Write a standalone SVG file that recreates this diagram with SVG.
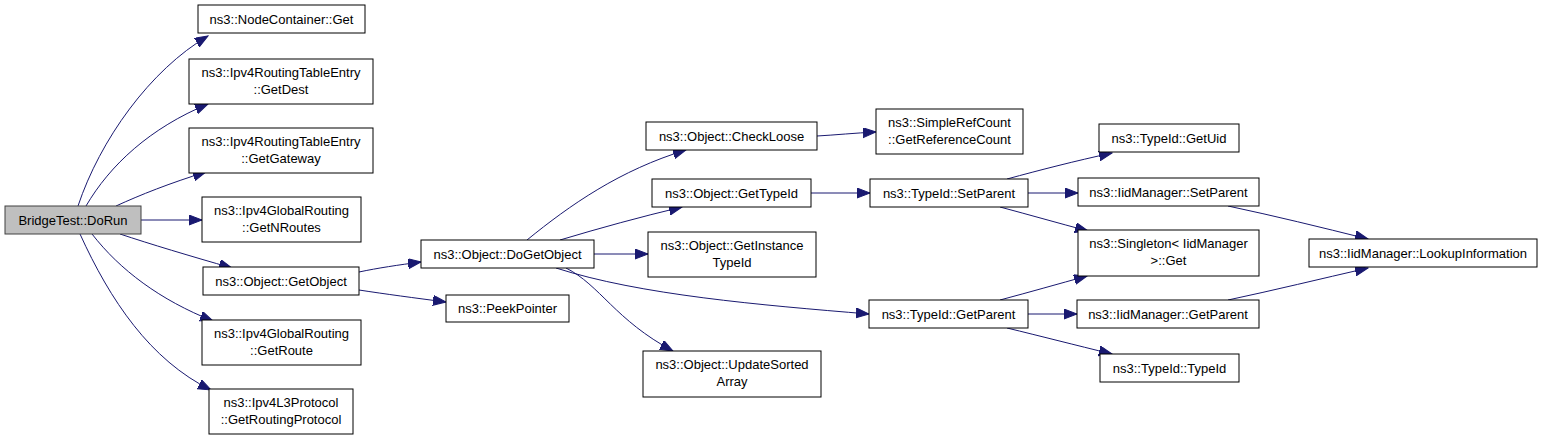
<svg xmlns="http://www.w3.org/2000/svg" width="1547" height="440" viewBox="0 0 1547 440">
<style>
.n rect{fill:#ffffff;stroke:#000000;stroke-width:1}
.n.root rect{fill:#bfbfbf;stroke:#404040}
.n text{font-family:"Liberation Sans",Arial,sans-serif;font-size:13px;fill:#000000;text-anchor:middle}
#edges path{fill:none;stroke:#191970;stroke-width:1;marker-end:url(#ah)}
</style>
<defs>
<marker id="ah" markerUnits="userSpaceOnUse" markerWidth="14" markerHeight="11" refX="13" refY="5" orient="auto">
<path d="M0,0 L13,5 L0,10 Z" fill="#191970" stroke="#191970" stroke-width="1"/>
</marker>
</defs>
<rect width="1547" height="440" fill="#ffffff"/>
<g id="edges">
<path d="M78,206 C100,140 150,70 208,36"/>
<path d="M86,206 C110,165 150,128 208,104"/>
<path d="M116,206 C140,195 170,183 206,172"/>
<path d="M141,220 L202,220"/>
<path d="M120,234 C150,244 190,256 232,268"/>
<path d="M92,234 C120,270 160,300 213,321"/>
<path d="M80,234 C110,300 150,360 211,390"/>
<path d="M359,272 C378,268 398,265 421,262"/>
<path d="M359,290 C385,294 415,298 446,302"/>
<path d="M527,240 C570,205 620,170 686,150"/>
<path d="M560,240 C600,228 640,217 682,207"/>
<path d="M594,254 L648,254"/>
<path d="M566,268 C600,285 615,320 673,351"/>
<path d="M556,268 C640,295 760,305 869,314"/>
<path d="M817,136 C835,135 855,133 876,132"/>
<path d="M811,193 L870,193"/>
<path d="M1007,179 C1040,170 1075,161 1112,153"/>
<path d="M1028,193 L1078,193"/>
<path d="M1000,207 C1030,215 1058,223 1088,231"/>
<path d="M1000,300 C1030,292 1058,284 1087,276"/>
<path d="M1028,314 L1077,314"/>
<path d="M1007,328 C1040,336 1075,345 1112,354"/>
<path d="M1228,206 C1275,216 1320,227 1368,239"/>
<path d="M1228,300 C1275,290 1320,279 1368,268"/>
</g>
<g id="n_dorun" class="n root"><rect x="5" y="206" width="136" height="28"/><text x="73" y="225">BridgeTest::DoRun</text></g>
<g id="n_nodecontainer_get" class="n"><rect x="198" y="5" width="167" height="28"/><text x="281.5" y="24">ns3::NodeContainer::Get</text></g>
<g id="n_getdest" class="n"><rect x="189" y="59" width="184" height="45"/><text x="281" y="77">ns3::Ipv4RoutingTableEntry</text><text x="281" y="94">::GetDest</text></g>
<g id="n_getgateway" class="n"><rect x="189" y="128" width="184" height="45"/><text x="281" y="146">ns3::Ipv4RoutingTableEntry</text><text x="281" y="163">::GetGateway</text></g>
<g id="n_getnroutes" class="n"><rect x="202" y="197" width="159" height="45"/><text x="281.5" y="215">ns3::Ipv4GlobalRouting</text><text x="281.5" y="232">::GetNRoutes</text></g>
<g id="n_getobject" class="n"><rect x="203" y="267" width="156" height="28"/><text x="281" y="286">ns3::Object::GetObject</text></g>
<g id="n_getroute" class="n"><rect x="202" y="320" width="159" height="45"/><text x="281.5" y="338">ns3::Ipv4GlobalRouting</text><text x="281.5" y="355">::GetRoute</text></g>
<g id="n_getroutingprotocol" class="n"><rect x="209" y="389" width="144" height="45"/><text x="281" y="407">ns3::Ipv4L3Protocol</text><text x="281" y="424">::GetRoutingProtocol</text></g>
<g id="n_dogetobject" class="n"><rect x="421" y="240" width="173" height="28"/><text x="507.5" y="259">ns3::Object::DoGetObject</text></g>
<g id="n_peekpointer" class="n"><rect x="446" y="295" width="123" height="27"/><text x="507.5" y="313">ns3::PeekPointer</text></g>
<g id="n_checkloose" class="n"><rect x="646" y="122" width="171" height="28"/><text x="731.5" y="141">ns3::Object::CheckLoose</text></g>
<g id="n_gettypeid" class="n"><rect x="652" y="179" width="159" height="28"/><text x="731.5" y="198">ns3::Object::GetTypeId</text></g>
<g id="n_getinstancetypeid" class="n"><rect x="648" y="232" width="168" height="45"/><text x="732" y="250">ns3::Object::GetInstance</text><text x="732" y="267">TypeId</text></g>
<g id="n_updatesortedarray" class="n"><rect x="643" y="351" width="178" height="46"/><text x="732" y="369">ns3::Object::UpdateSorted</text><text x="732" y="386">Array</text></g>
<g id="n_getreferencecount" class="n"><rect x="876" y="109" width="147" height="45"/><text x="949.5" y="127">ns3::SimpleRefCount</text><text x="949.5" y="144">::GetReferenceCount</text></g>
<g id="n_typeid_setparent" class="n"><rect x="870" y="179" width="158" height="28"/><text x="949" y="198">ns3::TypeId::SetParent</text></g>
<g id="n_typeid_getparent" class="n"><rect x="869" y="300" width="159" height="28"/><text x="948.5" y="319">ns3::TypeId::GetParent</text></g>
<g id="n_getuid" class="n"><rect x="1099" y="124" width="140" height="28"/><text x="1169" y="143">ns3::TypeId::GetUid</text></g>
<g id="n_iid_setparent" class="n"><rect x="1078" y="178" width="181" height="28"/><text x="1168.5" y="197">ns3::IidManager::SetParent</text></g>
<g id="n_singleton_get" class="n"><rect x="1078" y="230" width="181" height="46"/><text x="1168.5" y="248">ns3::Singleton&lt; IidManager</text><text x="1168.5" y="265">&gt;::Get</text></g>
<g id="n_iid_getparent" class="n"><rect x="1077" y="300" width="182" height="28"/><text x="1168" y="319">ns3::IidManager::GetParent</text></g>
<g id="n_typeid_typeid" class="n"><rect x="1100" y="354" width="139" height="28"/><text x="1169.5" y="373">ns3::TypeId::TypeId</text></g>
<g id="n_lookupinformation" class="n"><rect x="1309" y="239" width="228" height="28"/><text x="1423" y="258">ns3::IidManager::LookupInformation</text></g>
</svg>
